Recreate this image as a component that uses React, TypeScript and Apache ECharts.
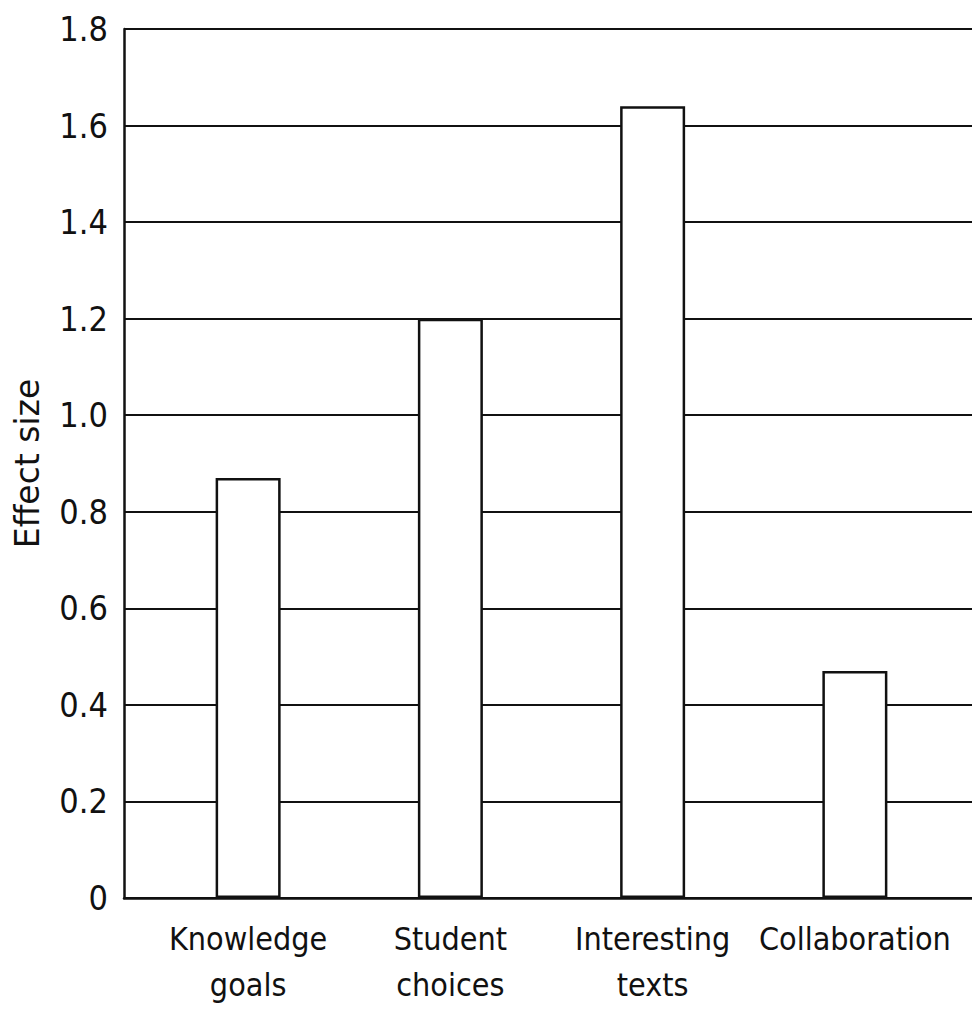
import React, { useEffect, useRef } from "react";
import * as echarts from "echarts";

const categories = ["Knowledge\ngoals", "Student\nchoices", "Interesting\ntexts", "Collaboration"];
const effectSizes = [0.87, 1.2, 1.64, 0.47];
const yMin = 0;
const yMax = 1.8;
const yInterval = 0.2;
const yAxisTitle = "Effect size";

const narrowFont = "'DejaVu Sans Condensed', 'Liberation Sans Narrow', 'Liberation Sans', sans-serif";

export default function App() {
  const ref = useRef<HTMLDivElement>(null);
  useEffect(() => {
    if (!ref.current) return;
    const chart = echarts.init(ref.current, null, { renderer: "svg" });
    const ink = "#111";
    chart.setOption({
      animation: false,
      backgroundColor: "#ffffff",
      grid: [
        { left: 124, right: 0, top: 29, bottom: 121, containLabel: false, outerBoundsMode: "none" },
        { left: 147, width: 809, top: 29, bottom: 121, containLabel: false, outerBoundsMode: "none" },
      ],
      xAxis: [
        {
          gridIndex: 0,
          type: "value",
          min: 0,
          max: 1,
          axisLine: { show: true, onZero: false, lineStyle: { color: ink, width: 2.5 } },
          axisTick: { show: false },
          axisLabel: { show: false },
          splitLine: { show: false },
        },
        {
          gridIndex: 1,
          type: "category",
          data: categories,
          axisLine: { show: false },
          axisTick: { show: false },
          axisLabel: {
            margin: 18,
            color: ink,
            fontFamily: narrowFont,
            fontSize: 32,
            lineHeight: 46,
            interval: 0,
          },
        },
      ],
      yAxis: [
        {
          gridIndex: 0,
          type: "value",
          min: yMin,
          max: yMax,
          interval: yInterval,
          name: yAxisTitle,
          nameLocation: "middle",
          nameGap: 80,
          nameTextStyle: {
            color: ink,
            fontFamily: "'DejaVu Sans', sans-serif",
            fontSize: 33,
          },
          axisLine: { show: true, lineStyle: { color: ink, width: 2.5 } },
          axisTick: { show: false },
          axisLabel: {
            margin: 16,
            color: ink,
            fontFamily: narrowFont,
            fontSize: 34,
            formatter: (v: number) => (v === 0 ? "0" : v.toFixed(1)),
          },
          splitLine: { show: true, lineStyle: { color: ink, width: 2 } },
        },
        {
          gridIndex: 1,
          type: "value",
          min: yMin,
          max: yMax,
          interval: yInterval,
          show: false,
          splitLine: { show: false },
        },
      ],
      series: [
        {
          type: "bar",
          xAxisIndex: 1,
          yAxisIndex: 1,
          data: effectSizes,
          barWidth: 65,
          z: 5,
          itemStyle: { color: "#ffffff", borderColor: ink, borderWidth: 2.5 },
        },
      ],
    });
    return () => chart.dispose();
  }, []);
  return (
    <div
      ref={ref}
      style={{ position: "absolute", left: 0, top: 0, width: 972, height: 1019, background: "#fff" }}
    />
  );
}
